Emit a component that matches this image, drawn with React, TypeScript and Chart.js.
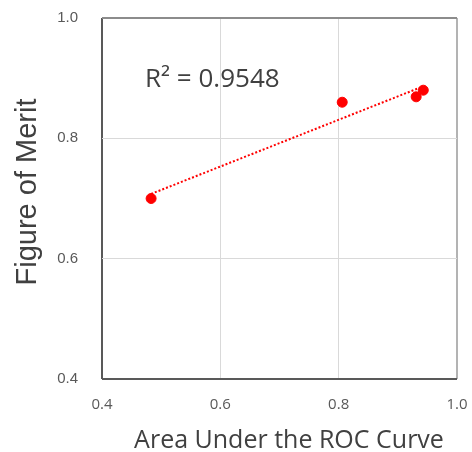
import React, { useEffect, useRef } from "react";
import { Chart, registerables } from "chart.js";

Chart.register(...registerables);

const aucValues: number[] = [0.483, 0.806, 0.931, 0.943];
const meritValues: number[] = [0.7, 0.86, 0.869, 0.88];
const axisMin = 0.4;
const axisMax = 1.0;
const tickStep = 0.2;
const xTitle = "Area Under the ROC Curve";
const yTitle = "Figure of Merit";
const rSquaredLabel = "R\u00B2 = 0.9548";

function linearFit(xs: number[], ys: number[]) {
  const n = xs.length;
  const mx = xs.reduce((a, b) => a + b, 0) / n;
  const my = ys.reduce((a, b) => a + b, 0) / n;
  let sxy = 0;
  let sxx = 0;
  for (let i = 0; i < n; i++) {
    sxy += (xs[i] - mx) * (ys[i] - my);
    sxx += (xs[i] - mx) * (xs[i] - mx);
  }
  const slope = sxy / sxx;
  return { slope, intercept: my - slope * mx };
}

const textPlugin = {
  id: "textPlugin",
  afterDraw(chart: any) {
    const ctx = chart.ctx;
    const xs = chart.scales.x;
    const ys = chart.scales.y;
    ctx.save();
    ctx.fillStyle = "#404040";
    ctx.font = '26px "Open Sans"';
    ctx.textAlign = "left";
    ctx.textBaseline = "alphabetic";
    ctx.fillText(rSquaredLabel, xs.left + 43, ys.top + 69);
    ctx.font = '25px "Open Sans"';
    ctx.textAlign = "center";
    ctx.fillText(xTitle, 289, 448);
    ctx.translate(28, 192);
    ctx.rotate(-Math.PI / 2);
    ctx.font = '29px "Liberation Sans"';
    ctx.textBaseline = "middle";
    ctx.fillText(yTitle, 0, 0);
    ctx.restore();
  },
};

export default function App() {
  const ref = useRef<HTMLCanvasElement | null>(null);

  useEffect(() => {
    if (!ref.current) return;
    const fit = linearFit(aucValues, meritValues);
    const xMinData = Math.min(...aucValues);
    const xMaxData = Math.max(...aucValues);
    const trend = [
      { x: xMinData, y: fit.intercept + fit.slope * xMinData },
      { x: xMaxData, y: fit.intercept + fit.slope * xMaxData },
    ];
    const points = aucValues.map((x, i) => ({ x, y: meritValues[i] }));

    const edgeColor = (v: number, isX: boolean) => {
      if (Math.abs(v - axisMin) < 1e-6) return "#595959";
      if (Math.abs(v - axisMax) < 1e-6) return isX ? "#b3b3b3" : "#8c8c8c";
      return "#d9d9d9";
    };
    const edgeWidth = (v: number) =>
      Math.abs(v - axisMin) < 1e-6 || Math.abs(v - axisMax) < 1e-6 ? 2 : 1;

    const zeroPad = (s: any) => {
      s.paddingTop = 0;
      s.paddingBottom = 0;
      s.paddingLeft = 0;
      s.paddingRight = 0;
    };

    const chart = new Chart(ref.current, {
      type: "scatter",
      data: {
        datasets: [
          {
            type: "line",
            data: trend,
            borderColor: "#ff0000",
            borderWidth: 2,
            borderDash: [2, 2],
            pointRadius: 0,
            fill: false,
            order: 2,
          } as any,
          {
            data: points,
            backgroundColor: "#ff0000",
            borderColor: "#ff0000",
            pointRadius: 5,
            order: 1,
          },
        ],
      },
      options: {
        animation: false,
        responsive: false,
        layout: { padding: { top: 18, right: 15, left: 0, bottom: 0 } },
        plugins: { legend: { display: false }, tooltip: { enabled: false } },
        scales: {
          x: {
            type: "linear",
            min: axisMin,
            max: axisMax,
            afterFit: (s: any) => {
              s.height = 73;
              zeroPad(s);
            },
            ticks: {
              stepSize: tickStep,
              callback: (v: any) => Number(v).toFixed(1),
              font: { family: '"Open Sans"', size: 15 },
              color: "#595959",
              padding: 17,
            },
            grid: {
              drawTicks: false,
              color: (c: any) => edgeColor(c.tick.value, true),
              lineWidth: (c: any) => edgeWidth(c.tick.value),
            },
            border: { display: false },
          },
          y: {
            type: "linear",
            min: axisMin,
            max: axisMax,
            afterFit: (s: any) => {
              s.width = 102;
              zeroPad(s);
            },
            ticks: {
              stepSize: tickStep,
              callback: (v: any) => Number(v).toFixed(1),
              font: { family: '"Liberation Sans"', size: 15 },
              color: "#595959",
              padding: 24,
            },
            grid: {
              drawTicks: false,
              color: (c: any) => edgeColor(c.tick.value, false),
              lineWidth: (c: any) => edgeWidth(c.tick.value),
            },
            border: { display: false },
          },
        },
      },
      plugins: [textPlugin],
    });
    return () => chart.destroy();
  }, []);

  return (
    <div style={{ position: "absolute", left: 0, top: 0, width: 472, height: 452, background: "#fff" }}>
      <canvas ref={ref} width={472} height={452} style={{ display: "block" }} />
    </div>
  );
}
